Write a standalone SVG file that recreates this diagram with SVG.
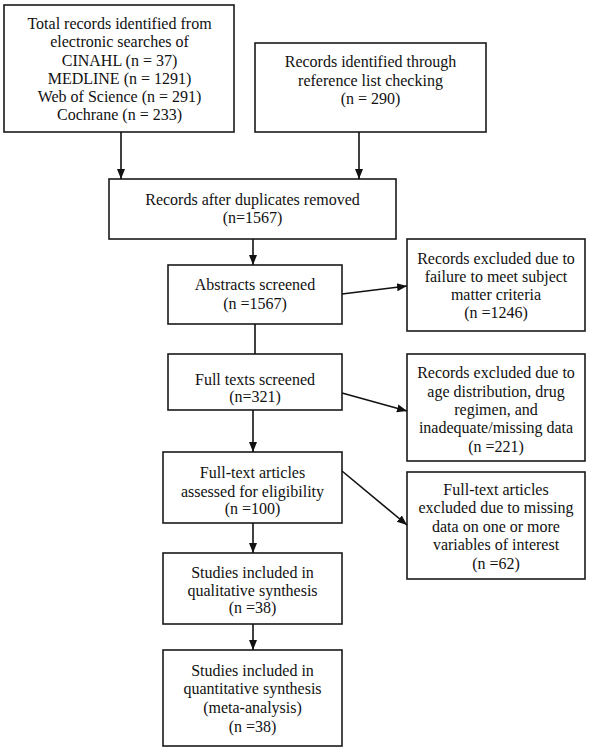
<svg xmlns="http://www.w3.org/2000/svg" width="589" height="750" viewBox="0 0 589 750">
<defs>
<marker id="ah" markerUnits="userSpaceOnUse" markerWidth="10" markerHeight="10" viewBox="0 0 10 10" refX="10" refY="5" orient="auto">
<path d="M0,1 L10,5 L0,9 Z" fill="#111"/>
</marker>
</defs>
<style>
rect.box{fill:#fff;stroke:#1a1a1a;stroke-width:1.6}
text{font-family:"Liberation Serif","Times New Roman",serif;font-size:16px;fill:#111;text-anchor:middle}
.conn line{stroke:#111;stroke-width:1.6}
</style>
<rect width="589" height="750" fill="#fff"/>
<g id="n1"><rect class="box" x="4" y="5" width="230" height="127"/>
<text x="119.5" y="29">Total records identified from</text>
<text x="119.5" y="47">electronic searches of</text>
<text x="119.5" y="66">CINAHL (n = 37)</text>
<text x="119.5" y="84">MEDLINE (n = 1291)</text>
<text x="119.5" y="102">Web of Science (n = 291)</text>
<text x="119.5" y="120">Cochrane (n = 233)</text></g>
<g id="n2"><rect class="box" x="255" y="43" width="231" height="89"/>
<text x="370.5" y="67">Records identified through</text>
<text x="370.5" y="86">reference list checking</text>
<text x="370.5" y="104">(n = 290)</text></g>
<g id="n3"><rect class="box" x="109" y="179" width="287" height="60"/>
<text x="252.5" y="205">Records after duplicates removed</text>
<text x="252.5" y="223">(n=1567)</text></g>
<g id="n4"><rect class="box" x="168" y="265" width="174" height="59"/>
<text x="255" y="290">Abstracts screened</text>
<text x="255" y="309">(n =1567)</text></g>
<g id="n5"><rect class="box" x="407" y="239" width="178" height="92"/>
<text x="496" y="264">Records excluded due to</text>
<text x="496" y="282">failure to meet subject</text>
<text x="496" y="300">matter criteria</text>
<text x="496" y="318">(n =1246)</text></g>
<g id="n6"><rect class="box" x="168" y="354" width="174" height="56"/>
<text x="255" y="385">Full texts screened</text>
<text x="255" y="402">(n=321)</text></g>
<g id="n7"><rect class="box" x="407" y="354" width="178" height="107"/>
<text x="496" y="378">Records excluded due to</text>
<text x="496" y="397">age distribution, drug</text>
<text x="496" y="415">regimen, and</text>
<text x="496" y="433">inadequate/missing data</text>
<text x="496" y="452">(n =221)</text></g>
<g id="n8"><rect class="box" x="163" y="452" width="179" height="71"/>
<text x="252.5" y="478">Full-text articles</text>
<text x="252.5" y="497">assessed for eligibility</text>
<text x="252.5" y="514">(n =100)</text></g>
<g id="n9"><rect class="box" x="407" y="472" width="178" height="107"/>
<text x="496" y="495">Full-text articles</text>
<text x="496" y="513">excluded due to missing</text>
<text x="496" y="532">data on one or more</text>
<text x="496" y="550">variables of interest</text>
<text x="496" y="569">(n =62)</text></g>
<g id="n10"><rect class="box" x="163" y="553" width="179" height="71"/>
<text x="252.5" y="578">Studies included in</text>
<text x="252.5" y="596">qualitative synthesis</text>
<text x="252.5" y="613">(n =38)</text></g>
<g id="n11"><rect class="box" x="163" y="650" width="179" height="96"/>
<text x="252.5" y="676">Studies included in</text>
<text x="252.5" y="694">quantitative synthesis</text>
<text x="252.5" y="713">(meta-analysis)</text>
<text x="252.5" y="732">(n =38)</text></g>
<g id="connectors" class="conn">
<line x1="121" y1="132" x2="121" y2="179" marker-end="url(#ah)"/>
<line x1="359" y1="132" x2="359" y2="179" marker-end="url(#ah)"/>
<line x1="253" y1="239" x2="253" y2="265" marker-end="url(#ah)"/>
<line x1="255" y1="324" x2="255" y2="354"/>
<line x1="342" y1="294" x2="407" y2="286" marker-end="url(#ah)"/>
<line x1="342" y1="393" x2="407" y2="411" marker-end="url(#ah)"/>
<line x1="253" y1="410" x2="253" y2="452" marker-end="url(#ah)"/>
<line x1="342" y1="471" x2="407" y2="525" marker-end="url(#ah)"/>
<line x1="253" y1="523" x2="253" y2="553" marker-end="url(#ah)"/>
<line x1="253" y1="624" x2="253" y2="650" marker-end="url(#ah)"/>
</g>
</svg>
